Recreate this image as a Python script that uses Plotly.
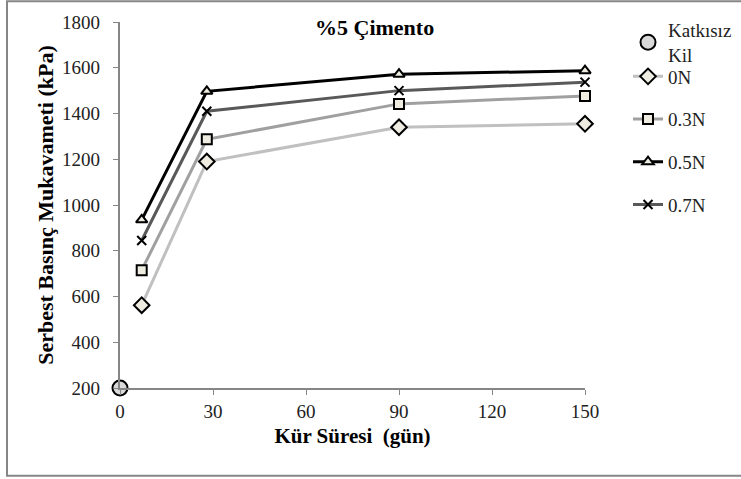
import plotly.graph_objects as go

days = [7, 28, 90, 150]
s0N = [562, 1190, 1340, 1355]
s03N = [715, 1287, 1442, 1477]
s05N = [935, 1497, 1572, 1587]
s07N = [845, 1410, 1500, 1537]
base_x = [0]
base_y = [200]
x_ticks = [0, 30, 60, 90, 120, 150]
y_ticks = [200, 400, 600, 800, 1000, 1200, 1400, 1600, 1800]

FONT = "Liberation Serif"
FILL = "#EEECE1"

fig = go.Figure()
fig.add_trace(go.Scatter(x=base_x, y=base_y, mode="markers", name="Katkısız<br>Kil",
                         marker=dict(symbol="circle", size=15, color="#D9D9D9",
                                     line=dict(color="black", width=2)),
                         cliponaxis=False, legend="legend2"))
series = [
    ("0N", s0N, "#C0C0C0", "diamond", 12),
    ("0.3N", s03N, "#A0A0A0", "square", 10),
    ("0.5N", s05N, "#000000", "triangle-up", 10),
    ("0.7N", s07N, "#595959", "x-thin-open", 9),
]
for name, ys, col, sym, sz in series:
    mk = dict(symbol=sym, size=sz, color=FILL, line=dict(color="black", width=2))
    if sym == "x-thin-open":
        mk = dict(symbol=sym, size=sz, color="black", line=dict(color="black", width=2))
    fig.add_trace(go.Scatter(x=days, y=ys, mode="lines+markers", name=name,
                             line=dict(color=col, width=3), marker=mk,
                             cliponaxis=False, legendgroup=name, legend="legend"))

pad = '<span style="color:rgba(0,0,0,0)">0</span>'
leg_font = dict(family=FONT, size=19, color="#222222")
fig.update_layout(
    width=741, height=479,
    margin=dict(l=120, r=156, t=22, b=91, autoexpand=False),
    paper_bgcolor="white", plot_bgcolor="white",
    font=dict(family=FONT, size=19, color="#222222"),
    showlegend=True,
    legend=dict(x=1.0925, y=0.903, xanchor="left", yanchor="top", font=leg_font,
                tracegroupgap=15, itemwidth=30, bgcolor="rgba(0,0,0,0)"),
    legend2=dict(x=1.0925, y=1.03, xanchor="left", yanchor="top", font=leg_font,
                 itemwidth=30, bgcolor="rgba(0,0,0,0)"),
    xaxis=dict(range=[0, 150], tickvals=x_ticks,
               showgrid=False, zeroline=False, showline=True, linecolor="#868686",
               linewidth=1.5, ticks="outside", tickcolor="#868686", ticklen=5,
               automargin=False, tickfont=dict(family=FONT, size=19),
               title=dict(text="<b>Kür Süresi\u00a0\u00a0(gün)</b>",
                          font=dict(family=FONT, size=21, color="black"), standoff=8)),
    yaxis=dict(range=[200, 1800], tickvals=y_ticks,
               ticktext=[f"{v}{pad}" for v in y_ticks],
               showgrid=False, zeroline=False, showline=True, linecolor="#868686",
               linewidth=1.5, ticks="outside", tickcolor="#868686", ticklen=5,
               automargin=False, tickfont=dict(family=FONT, size=19),
               title=dict(text="<b>Serbest Basınç Mukavameti (kPa)</b>",
                          font=dict(family=FONT, size=22, color="black"), standoff=2)),
    annotations=[dict(text="<b>%5 Çimento</b>", x=0.548, y=1800, xref="paper", yref="y",
                      xanchor="center", yanchor="top", yshift=9, showarrow=False,
                      font=dict(family=FONT, size=22, color="black"))],
    shapes=[dict(type="rect", xref="paper", yref="paper", x0=-0.243, x1=1.36,
                 y0=-0.240, y1=1.057, line=dict(color="#868686", width=2))],
)

fig.write_html("out.html", config={"displayModeBar": False},
               post_script="document.body.style.margin='0';")
